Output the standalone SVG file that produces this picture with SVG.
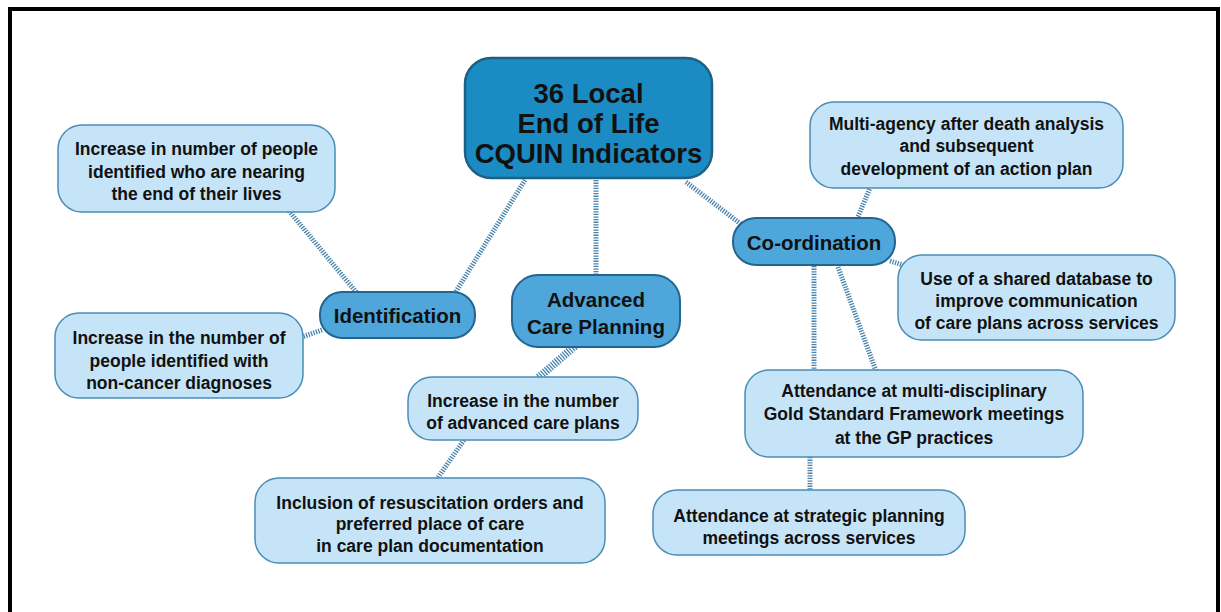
<svg xmlns="http://www.w3.org/2000/svg" width="1221" height="612" viewBox="0 0 1221 612">
<style>
.frame{fill:#fff;stroke:#000;stroke-width:4}
.leaf{fill:#c6e4f7;stroke:#4a8db8;stroke-width:1.5}
.mid{fill:#4ea6da;stroke:#23658f;stroke-width:2}
.root{fill:#1b8cc3;stroke:#1f5f84;stroke-width:2.5}
text{font-family:"Liberation Sans",Arial,sans-serif;font-weight:bold;fill:#111;text-anchor:middle}
.t{font-size:17.5px}
.tm{font-size:20.5px}
.tr{font-size:27.5px}
.c{fill:none;stroke:#4783ad;stroke-width:5;stroke-dasharray:1.3 1.3}
</style>
<rect class="frame" x="10" y="9" width="1208" height="620"/>
<g id="connectors">
<line class="c" x1="525" y1="180" x2="455" y2="293"/>
<line class="c" x1="596" y1="180" x2="596" y2="276"/>
<line class="c" x1="686" y1="182" x2="742" y2="225"/>
<line class="c" x1="289" y1="211" x2="357" y2="293"/>
<line class="c" x1="322" y1="330" x2="302" y2="337"/>
<line class="c" x1="575" y1="346" x2="538" y2="378" style="stroke-width:8"/>
<line class="c" x1="464" y1="440" x2="437" y2="479"/>
<line class="c" x1="857" y1="219" x2="870" y2="188"/>
<line class="c" x1="890" y1="261" x2="906" y2="266"/>
<line class="c" x1="814" y1="266" x2="814" y2="371"/>
<line class="c" x1="838" y1="267" x2="876" y2="371"/>
<line class="c" x1="810" y1="457" x2="810" y2="491"/>
</g>
<g id="root">
<rect class="root" x="465" y="58" width="247" height="120" rx="26"/>
<text class="tr" x="588.5" y="103">36 Local</text>
<text class="tr" x="588.5" y="133">End of Life</text>
<text class="tr" x="588.5" y="163">CQUIN Indicators</text>
</g>
<g id="identification">
<rect class="mid" x="320" y="292" width="155" height="46" rx="22"/>
<text class="tm" x="397.5" y="322.5">Identification</text>
</g>
<g id="acp">
<rect class="mid" x="512" y="275" width="168" height="72" rx="26"/>
<text class="tm" x="596" y="307">Advanced</text>
<text class="tm" x="596" y="334">Care Planning</text>
</g>
<g id="coordination">
<rect class="mid" x="733" y="218" width="162" height="47" rx="23"/>
<text class="tm" x="814" y="249.5">Co-ordination</text>
</g>
<g id="id-nearing">
<rect class="leaf" x="58" y="125" width="277" height="87" rx="24"/>
<text class="t" x="196.5" y="154.5">Increase in number of people</text>
<text class="t" x="196.5" y="177.5">identified who are nearing</text>
<text class="t" x="196.5" y="199.5">the end of their lives</text>
</g>
<g id="id-noncancer">
<rect class="leaf" x="55" y="313" width="248" height="85" rx="24"/>
<text class="t" x="179" y="343.5">Increase in the number of</text>
<text class="t" x="179" y="366.5">people identified with</text>
<text class="t" x="179" y="388.5">non-cancer diagnoses</text>
</g>
<g id="acp-plans">
<rect class="leaf" x="408" y="377" width="230" height="63" rx="24"/>
<text class="t" x="523" y="406.5">Increase in the number</text>
<text class="t" x="523" y="428.5">of advanced care plans</text>
</g>
<g id="acp-inclusion">
<rect class="leaf" x="255" y="478" width="350" height="85" rx="24"/>
<text class="t" x="430" y="508.5">Inclusion of resuscitation orders and</text>
<text class="t" x="430" y="529.5">preferred place of care</text>
<text class="t" x="430" y="551.5">in care plan documentation</text>
</g>
<g id="co-afterdeath">
<rect class="leaf" x="810" y="102" width="313" height="86" rx="24"/>
<text class="t" x="966.5" y="129.5">Multi-agency after death analysis</text>
<text class="t" x="966.5" y="151.5">and subsequent</text>
<text class="t" x="966.5" y="174.5">development of an action plan</text>
</g>
<g id="co-database">
<rect class="leaf" x="898" y="255" width="277" height="85" rx="24"/>
<text class="t" x="1036.5" y="284.5">Use of a shared database to</text>
<text class="t" x="1036.5" y="306.5">improve communication</text>
<text class="t" x="1036.5" y="328.5">of care plans across services</text>
</g>
<g id="co-gsf">
<rect class="leaf" x="745" y="370" width="338" height="87" rx="24"/>
<text class="t" x="914" y="396.5">Attendance at multi-disciplinary</text>
<text class="t" x="914" y="419.5">Gold Standard Framework meetings</text>
<text class="t" x="914" y="443.5">at the GP practices</text>
</g>
<g id="co-strategic">
<rect class="leaf" x="653" y="490" width="312" height="65" rx="24"/>
<text class="t" x="809" y="521.5">Attendance at strategic planning</text>
<text class="t" x="809" y="543.5">meetings across services</text>
</g>
</svg>
